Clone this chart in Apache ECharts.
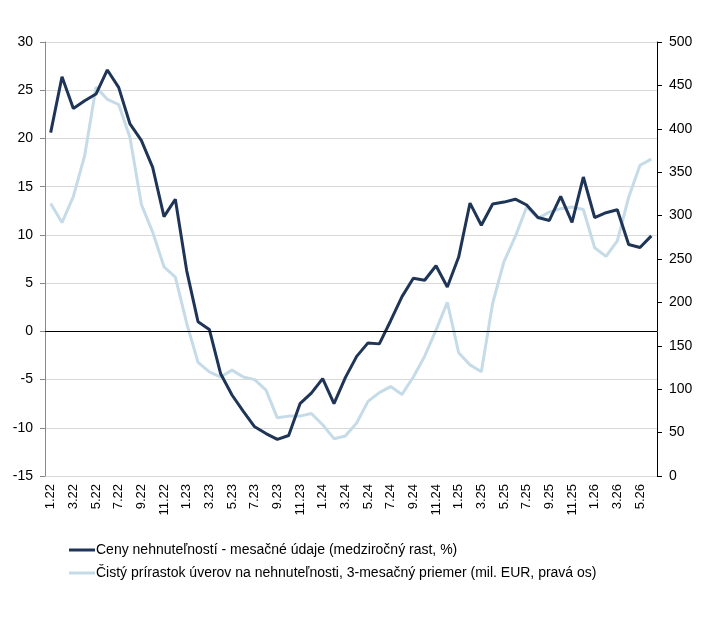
<!DOCTYPE html>
<html>
<head>
<meta charset="utf-8">
<script src="https://cdn.jsdelivr.net/npm/echarts@6/dist/echarts.min.js"></script>
<style>html,body{margin:0;padding:0;background:#fff}#chart{width:727px;height:617px}</style>
</head>
<body>
<div id="chart"></div>
<script>
var months = [];
for (var y = 22; y <= 26; y++) {
    for (var m = 1; m <= 12; m++) {
        if (y == 26 && m > 6) break;
        months.push(m + "." + y);
    }
}
var ceny = [20.6, 26.4, 23.1, 23.9, 24.6, 27.1, 25.3, 21.5, 19.8, 17.0, 11.9, 13.7, 6.3, 1.0, 0.2, -4.4, -6.6, -8.3,
    -9.9, -10.6, -11.2, -10.8, -7.5, -6.4, -4.9, -7.5, -4.8, -2.6, -1.2, -1.3, 1.1, 3.6, 5.5, 5.3, 6.8, 4.6,
    7.7, 13.3, 11.0, 13.2, 13.4, 13.7, 13.1, 11.8, 11.5, 14.0, 11.3, 16.0, 11.8, 12.3, 12.6, 9.0, 8.7, 9.9];
var uvery = [314, 292, 322, 369, 448, 434, 428, 390, 313, 281, 241, 229, 176, 131, 120, 114, 122, 114,
    111, 99, 67, 69, 69, 72, 59, 43, 46, 61, 86, 96, 103, 94, 114, 138, 168, 200,
    142, 128, 120, 199, 247, 276, 310, 297, 304, 308, 310, 307, 263, 253, 271, 321, 358, 365];
var names = ["Ceny nehnuteľností - mesačné údaje (medziročný rast, %)",
    "Čistý prírastok úverov na nehnuteľnosti, 3-mesačný priemer (mil. EUR, pravá os)"];

var chart = echarts.init(document.getElementById("chart"));
chart.setOption({
    animation: false,
    textStyle: { fontFamily: "Liberation Sans, Arial", color: "#000" },
    grid: { left: 45, right: 70, top: 42, bottom: 141 },
    legend: {
        orient: "vertical", left: 64, top: 538, itemGap: 9, itemWidth: 26, itemHeight: 3,
        icon: "rect",
        textStyle: { fontSize: 14, color: "#000", padding: [0, 0, 0, -4] },
        data: names
    },
    xAxis: {
        type: "category", data: months, boundaryGap: ["2.5%", "0.5%"],
        axisLine: { lineStyle: { color: "#888" } },
        axisTick: { show: false },
        axisLabel: { rotate: 90, interval: 1, fontSize: 13, color: "#000" }
    },
    yAxis: [{
        type: "value", min: -15, max: 30, interval: 5,
        axisLine: { show: true, lineStyle: { color: "#888" } },
        axisTick: { show: true, lineStyle: { color: "#888" } },
        axisLabel: { fontSize: 14, color: "#000", margin: 12 },
        splitLine: { lineStyle: { color: "#d9d9d9" } }
    }, {
        type: "value", min: 0, max: 500, interval: 50,
        axisLine: { show: true, lineStyle: { color: "#000" } },
        axisTick: { show: true, lineStyle: { color: "#000" } },
        axisLabel: { fontSize: 14, color: "#000", margin: 12 },
        splitLine: { show: false }
    }],
    series: [{
        name: names[1], type: "line", yAxisIndex: 1, data: uvery, symbol: "none",
        lineStyle: { color: "#c5dbe7", width: 3 }, itemStyle: { color: "#c5dbe7" }
    }, {
        name: names[0], type: "line", yAxisIndex: 0, data: ceny, symbol: "none",
        lineStyle: { color: "#1f3558", width: 3 }, itemStyle: { color: "#1f3558" },
        markLine: {
            silent: true, symbol: "none", label: { show: false },
            lineStyle: { color: "#000", width: 1, type: "solid" },
            data: [{ yAxis: 0 }]
        }
    }]
});
</script>
</body>
</html>
